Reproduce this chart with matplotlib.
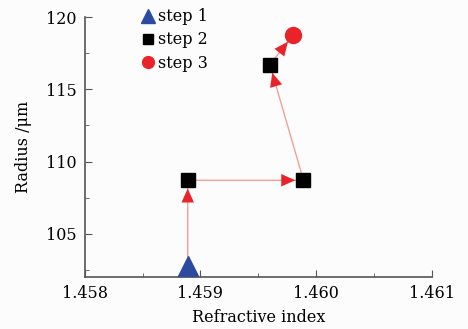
import numpy as np
import matplotlib.pyplot as plt
from matplotlib.ticker import MultipleLocator, FormatStrFormatter

# data
step1_n = [1.45889]
step1_r = [102.75]
step2_n = [1.45889, 1.45989, 1.45960]
step2_r = [108.7, 108.7, 116.7]
step3_n = [1.45980]
step3_r = [118.75]

# path followed by the arrows
path_n = [1.45889, 1.45889, 1.45989, 1.45960, 1.45980]
path_r = [102.75, 108.7, 108.7, 116.7, 118.75]

plt.rcParams['font.family'] = ['DejaVu Serif']
plt.rcParams['mathtext.fontset'] = 'dejavuserif'

fig = plt.figure(figsize=(4.68, 3.29), dpi=100)
fig.patch.set_facecolor('#fcfcfc')
ax = fig.add_axes([0.181, 0.158, 0.742, 0.79])
ax.set_facecolor('#fcfcfc')

# thin salmon connecting line, then red arrow heads on top
ax.plot(path_n, path_r, color='#f4a096', lw=1.0, zorder=1)
for i in range(len(path_n) - 1):
    ax.annotate('', xy=(path_n[i + 1], path_r[i + 1]), xytext=(path_n[i], path_r[i]),
                arrowprops=dict(arrowstyle='-|>,head_length=1.0,head_width=0.45',
                                mutation_scale=10, lw=0, shrinkA=0, shrinkB=6,
                                fc='#e8242a', ec='#e8242a'), zorder=2)

ax.plot(step1_n, step1_r, linestyle='none', marker='^', ms=15, color='#2b4aa0', label='step 1', zorder=3)
ax.plot(step2_n, step2_r, linestyle='none', marker='s', ms=10, color='black', label='step 2', zorder=3)
ax.plot(step3_n, step3_r, linestyle='none', marker='o', ms=11.5, color='#e8242a', label='step 3', zorder=3)

ax.set_xlim(1.458, 1.461)
ax.set_ylim(102, 120)
ax.xaxis.set_major_locator(MultipleLocator(0.001))
ax.xaxis.set_minor_locator(MultipleLocator(0.0005))
ax.xaxis.set_major_formatter(FormatStrFormatter('%.3f'))
ax.yaxis.set_major_locator(MultipleLocator(5))
ax.yaxis.set_minor_locator(MultipleLocator(2.5))

for s in ['top', 'right']:
    ax.spines[s].set_visible(False)
for s in ['left', 'bottom']:
    ax.spines[s].set_color('#555555')
    ax.spines[s].set_linewidth(1.2)
ax.tick_params(which='both', direction='in', colors='#555555', labelcolor='black', labelsize=11.5)
ax.tick_params(which='major', length=5, pad=6)
ax.tick_params(which='minor', length=3)

ax.set_xlabel('Refractive index', fontsize=11.5, labelpad=5)
ax.set_ylabel('Radius /μm', fontsize=11.5, labelpad=10)

leg = ax.legend(loc='upper left', bbox_to_anchor=(0.125, 1.09), frameon=False, fontsize=11.5,
                handlelength=0.7, handletextpad=0.25, labelspacing=0.4)
for h, s in zip(leg.legend_handles, [10, 7, 8.5]):
    h.set_markersize(s)

fig.savefig('out.png', dpi=100, facecolor=fig.get_facecolor())
